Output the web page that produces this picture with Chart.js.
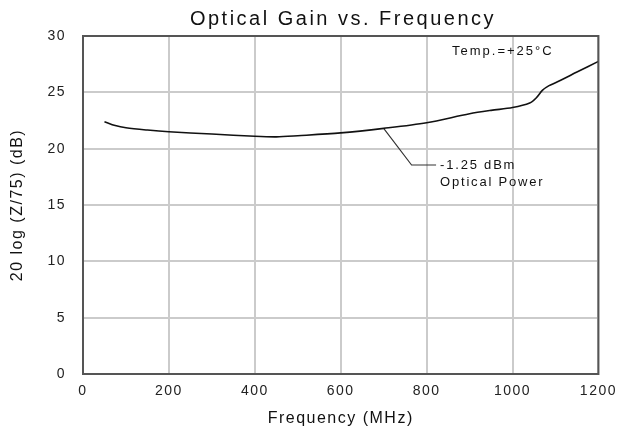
<!DOCTYPE html>
<html>
<head>
<meta charset="utf-8">
<script src="https://cdn.jsdelivr.net/npm/chart.js@4"></script>
<style>
  html, body { margin: 0; padding: 0; background: #fff; }
  #wrap { width: 623px; height: 432px; }
</style>
</head>
<body>
<div id="wrap"><canvas id="gainChart" width="623" height="432"></canvas></div>
<script>
// ---- data ----
const freqMHz = [50, 75, 100, 150, 200, 300, 400, 450, 500, 600, 700, 800, 900, 950, 1000, 1040, 1055, 1070, 1085, 1100, 1150, 1200];
const gainDb  = [22.4, 22.05, 21.85, 21.65, 21.5, 21.3, 21.1, 21.05, 21.15, 21.4, 21.8, 22.3, 23.1, 23.4, 23.65, 24.05, 24.5, 25.2, 25.6, 25.85, 26.8, 27.75];

// leader line from the curve to the "-1.25 dBm" note
const leaderX = [700, 765, 822];
const leaderY = [21.8, 18.55, 18.55];

const xTicks = [0, 200, 400, 600, 800, 1000, 1200];
const yTicks = [0, 5, 10, 15, 20, 25, 30];

const chartTitle = "Optical Gain vs. Frequency";
const tempNote = "Temp.=+25°C";
const powerNote = ["-1.25 dBm", "Optical Power"];

const FONT = "'Liberation Sans', Arial, sans-serif";

// frame + texts drawn on top
const notesPlugin = {
    id: "notes",
    beforeDraw(chart) {
        chart.ctx.letterSpacing = "1.5px";
    },
    afterDraw(chart) {
        const { ctx, chartArea: a, scales } = chart;
        ctx.save();
        ctx.strokeStyle = "#555";
        ctx.lineWidth = 2;
        ctx.strokeRect(a.left, a.top, a.right - a.left, a.bottom - a.top);

        ctx.fillStyle = "#111";
        ctx.textBaseline = "middle";
        ctx.textAlign = "center";
        ctx.font = "20px " + FONT;
        ctx.letterSpacing = "2.5px";
        ctx.fillText(chartTitle, 343, 19);

        ctx.textAlign = "left";
        ctx.font = "13px " + FONT;
        ctx.letterSpacing = "2px";
        ctx.fillText(tempNote, 452, 51);

        ctx.letterSpacing = "1.8px";
        const nx = scales.x.getPixelForValue(leaderX[2]) + 4;
        const ny = scales.y.getPixelForValue(leaderY[2]);
        ctx.fillText(powerNote[0], nx, ny);
        ctx.fillText(powerNote[1], nx, ny + 17);
        ctx.restore();
        ctx.letterSpacing = "0px";
    }
};

new Chart(document.getElementById("gainChart"), {
    type: "line",
    data: {
        datasets: [
            {
                data: freqMHz.map((f, i) => ({ x: f, y: gainDb[i] })),
                borderColor: "#111",
                borderWidth: 1.6,
                pointRadius: 0,
                tension: 0.3,
                fill: false
            },
            {
                data: leaderX.map((f, i) => ({ x: f, y: leaderY[i] })),
                borderColor: "#333",
                borderWidth: 1.2,
                pointRadius: 0,
                tension: 0,
                fill: false
            }
        ]
    },
    options: {
        responsive: false,
        animation: false,
        events: [],
        layout: { padding: { top: 36, right: 18, left: 0, bottom: 0 } },
        plugins: {
            legend: { display: false },
            tooltip: { enabled: false }
        },
        scales: {
            x: {
                type: "linear",
                min: 0,
                max: 1200,
                afterBuildTicks: s => { s.ticks = xTicks.map(v => ({ value: v })); },
                afterFit: s => { s.height = 58; },
                grid: { color: "#cbcbcb", lineWidth: 2, drawTicks: false },
                border: { color: "#555", width: 2 },
                ticks: {
                    color: "#222",
                    font: { family: FONT, size: 14 },
                    padding: 9,
                    maxRotation: 0,
                    callback: v => String(v)
                },
                title: {
                    display: true,
                    text: "Frequency (MHz)",
                    color: "#111",
                    font: { family: FONT, size: 16, lineHeight: 1 },
                    padding: { top: 0, bottom: 5 }
                }
            },
            y: {
                min: 0,
                max: 30,
                afterBuildTicks: s => { s.ticks = yTicks.map(v => ({ value: v })); },
                afterFit: s => { s.width = 83; },
                grid: { color: "#cbcbcb", lineWidth: 2, drawTicks: false },
                border: { color: "#555", width: 2 },
                ticks: {
                    color: "#222",
                    font: { family: FONT, size: 14 },
                    padding: 17,
                    callback: v => String(v)
                },
                title: {
                    display: true,
                    text: "20 log (Z/75) (dB)",
                    color: "#111",
                    font: { family: FONT, size: 16, lineHeight: 1 },
                    padding: { top: 10, bottom: 0 }
                }
            }
        }
    },
    plugins: [notesPlugin]
});
</script>
</body>
</html>
